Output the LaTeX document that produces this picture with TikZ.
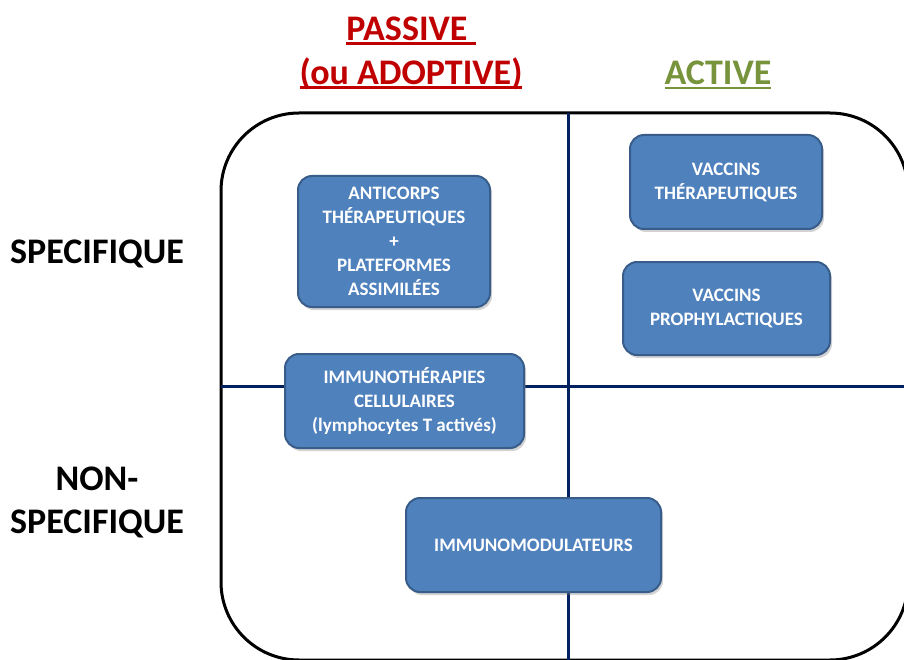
\documentclass[tikz,border=0pt]{standalone}
\usepackage{fontspec}
\setmainfont{Carlito}
\usetikzlibrary{shadows}

\definecolor{boxblue}{RGB}{79,129,189}
\definecolor{boxedge}{RGB}{56,93,138}
\definecolor{gridnavy}{RGB}{0,32,96}
\definecolor{passred}{RGB}{192,0,0}
\definecolor{actgreen}{RGB}{119,147,60}

% thick underline for the column headers
\newcommand{\headrule}[1]{\setbox0\hbox{#1}\rlap{\rule[-4.5pt]{\wd0}{2.5pt}}\box0}

\tikzset{
  therapy/.style={draw=boxedge, line width=2pt, fill=boxblue, rounded corners=14pt,
    text=white, align=center, font=\fontsize{19}{24}\selectfont\bfseries,
    drop shadow={shadow xshift=2pt, shadow yshift=-3pt, opacity=0.35}},
  header/.style={font=\fontsize{36}{44}\selectfont\bfseries, align=center},
  rowlabel/.style={font=\fontsize{36}{43}\selectfont\bfseries, align=center}
}

\begin{document}
\begin{tikzpicture}[x=1pt, y=-1pt]

\useasboundingbox (0,0) rectangle (904,660);
\clip (0,0) rectangle (904,660);

% Outer frame
\draw[line width=3pt, rounded corners=78pt] (221,113) rectangle (908,660);

% Quadrant lines
\draw[gridnavy, line width=3pt] (568,113) -- (568,660);
\draw[gridnavy, line width=3pt] (221,386) -- (904,386);

% Column headers
\node[header, text=passred] (passive) at (411,53)
  {\headrule{PASSIVE\ }\\\headrule{(ou ADOPTIVE)}};
\node[header, text=actgreen] (active) at (718,75) {\headrule{ACTIVE}};

% Row labels
\node[rowlabel] (spec) at (97,254) {SPECIFIQUE};
\node[rowlabel] (nonspec) at (97,502) {NON-\\SPECIFIQUE};

% Boxes
\node[therapy, minimum width=192pt, minimum height=131pt] (anticorps) at (394,241.5)
  {ANTICORPS\\THÉRAPEUTIQUES\\+\\PLATEFORMES\\ASSIMILÉES};
\node[therapy, minimum width=239pt, minimum height=94pt] (cellulaire) at (404.5,401)
  {IMMUNOTHÉRAPIES\\CELLULAIRES\\(lymphocytes T activés)};
\node[therapy, minimum width=192pt, minimum height=94pt] (vacther) at (726,182)
  {VACCINS\\THÉRAPEUTIQUES};
\node[therapy, minimum width=207pt, minimum height=93pt] (vacpro) at (726.5,308.5)
  {VACCINS\\PROPHYLACTIQUES};
\node[therapy, minimum width=255pt, minimum height=94pt] (immunomod) at (533.5,545)
  {IMMUNOMODULATEURS};

\end{tikzpicture}
\end{document}
